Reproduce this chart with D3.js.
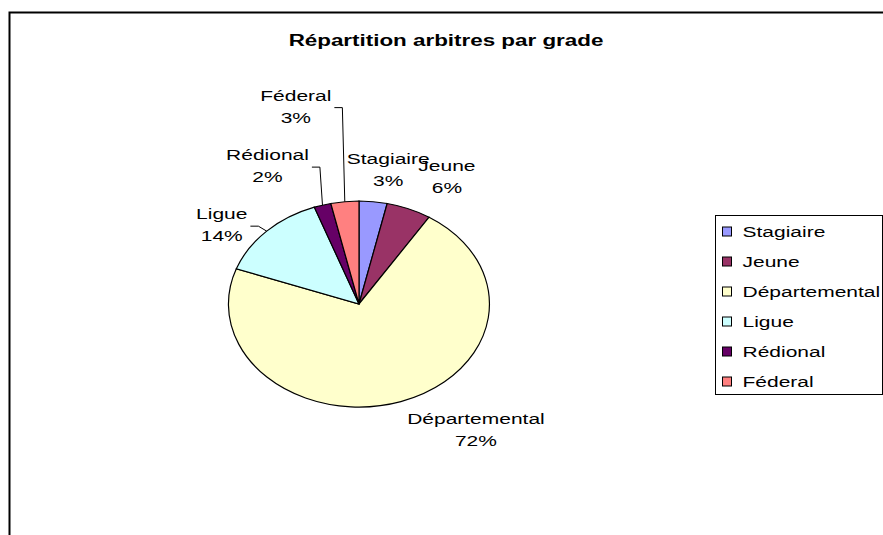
<!DOCTYPE html>
<html>
<head>
<meta charset="utf-8">
<script src="https://cdn.jsdelivr.net/npm/d3@7"></script>
<style>
  body { margin: 0; background: #fff; }
  svg { display: block; font-family: Arial, 'Liberation Sans', sans-serif; }
</style>
</head>
<body>
<div id="chart"></div>
<script>
// Data
const grades = ['Stagiaire', 'Jeune', 'Départemental', 'Ligue', 'Rédional', 'Féderal'];
const counts = [5, 8, 103, 20, 3, 5];
const colors = ['#9999FF', '#993366', '#FFFFCC', '#CCFFFF', '#660066', '#FF8080'];
const title = 'Répartition arbitres par grade';

// label placement (offset from slice edge, px) and leader line flags
const labelOffsets = [[15, -38], [38, -38], [75, 22], [-45, -12], [-55, -45], [-49, -101]];
const hasLeader = [false, false, false, true, true, true];

const width = 883;
const height = 535;
const sx = 1.4; // the original picture is stretched horizontally
const cx = 359, cy = 304, rx = 130.5, ry = 103;

const svg = d3.select('#chart')
  .append('svg')
  .attr('width', width)
  .attr('height', height);

// Chart frame
svg.append('rect')
  .attr('x', 9.5)
  .attr('y', 12.5)
  .attr('width', 900)
  .attr('height', 600)
  .attr('fill', '#fff')
  .attr('stroke', '#000')
  .attr('stroke-width', 2);

// Title
svg.append('g')
  .attr('transform', `translate(446,46) scale(${sx},1)`)
  .append('text')
  .attr('text-anchor', 'middle')
  .attr('font-size', 16)
  .attr('font-weight', 'bold')
  .text(title);

// Pie
const total = d3.sum(counts);
const pct = d3.format('.0%');
const pie = d3.pie().sort(null).value(d => d);
const arcs = pie(counts);
const arc = d3.arc().innerRadius(0).outerRadius(1);
const edge = d3.arc().innerRadius(1).outerRadius(1);

const pieG = svg.append('g')
  .attr('transform', `translate(${cx},${cy}) scale(${rx},${ry})`);

pieG.selectAll('path')
  .data(arcs)
  .enter()
  .append('path')
  .attr('d', arc)
  .attr('fill', (d, i) => colors[i])
  .attr('stroke', '#000')
  .attr('stroke-width', 1.2)
  .attr('vector-effect', 'non-scaling-stroke');

// Labels
arcs.forEach((d, i) => {
  const c = edge.centroid(d);
  const ex = cx + c[0] * rx;
  const ey = cy + c[1] * ry;
  const lx = ex + labelOffsets[i][0];
  const ly = ey + labelOffsets[i][1];

  const g = svg.append('g')
    .attr('transform', `translate(${lx},${ly}) scale(${sx},1)`);
  const t1 = g.append('text')
    .attr('text-anchor', 'middle')
    .attr('font-size', 15)
    .attr('fill', '#000')
    .text(grades[i]);
  const t2 = g.append('text')
    .attr('text-anchor', 'middle')
    .attr('y', 22)
    .attr('font-size', 15)
    .attr('fill', '#000')
    .text(pct(counts[i] / total));

  if (hasLeader[i]) {
    const w = Math.max(t1.node().getComputedTextLength(), t2.node().getComputedTextLength()) * sx;
    const x0 = lx + w / 2 + 3;
    const y0 = ly + 7;
    svg.append('polyline')
      .attr('points', [[x0, y0], [x0 + 8, y0], [ex, ey]].map(p => p.join(',')).join(' '))
      .attr('fill', 'none')
      .attr('stroke', '#000')
      .attr('stroke-width', 1);
  }
});

// Legend
const legend = svg.append('g').attr('transform', 'translate(715.5,215.5)');
legend.append('rect')
  .attr('width', 167)
  .attr('height', 179)
  .attr('fill', '#fff')
  .attr('stroke', '#000')
  .attr('stroke-width', 1);

const item = legend.selectAll('g.item')
  .data(grades)
  .enter()
  .append('g')
  .attr('class', 'item')
  .attr('transform', (d, i) => `translate(0,${16 + i * 30})`);

item.append('rect')
  .attr('x', 7)
  .attr('y', -4.5)
  .attr('width', 9)
  .attr('height', 9)
  .attr('fill', (d, i) => colors[i])
  .attr('stroke', '#000')
  .attr('stroke-width', 1);

item.append('g')
  .attr('transform', `translate(27,5.5) scale(${sx},1)`)
  .append('text')
  .attr('font-size', 15)
  .text(d => d);
</script>
</body>
</html>
